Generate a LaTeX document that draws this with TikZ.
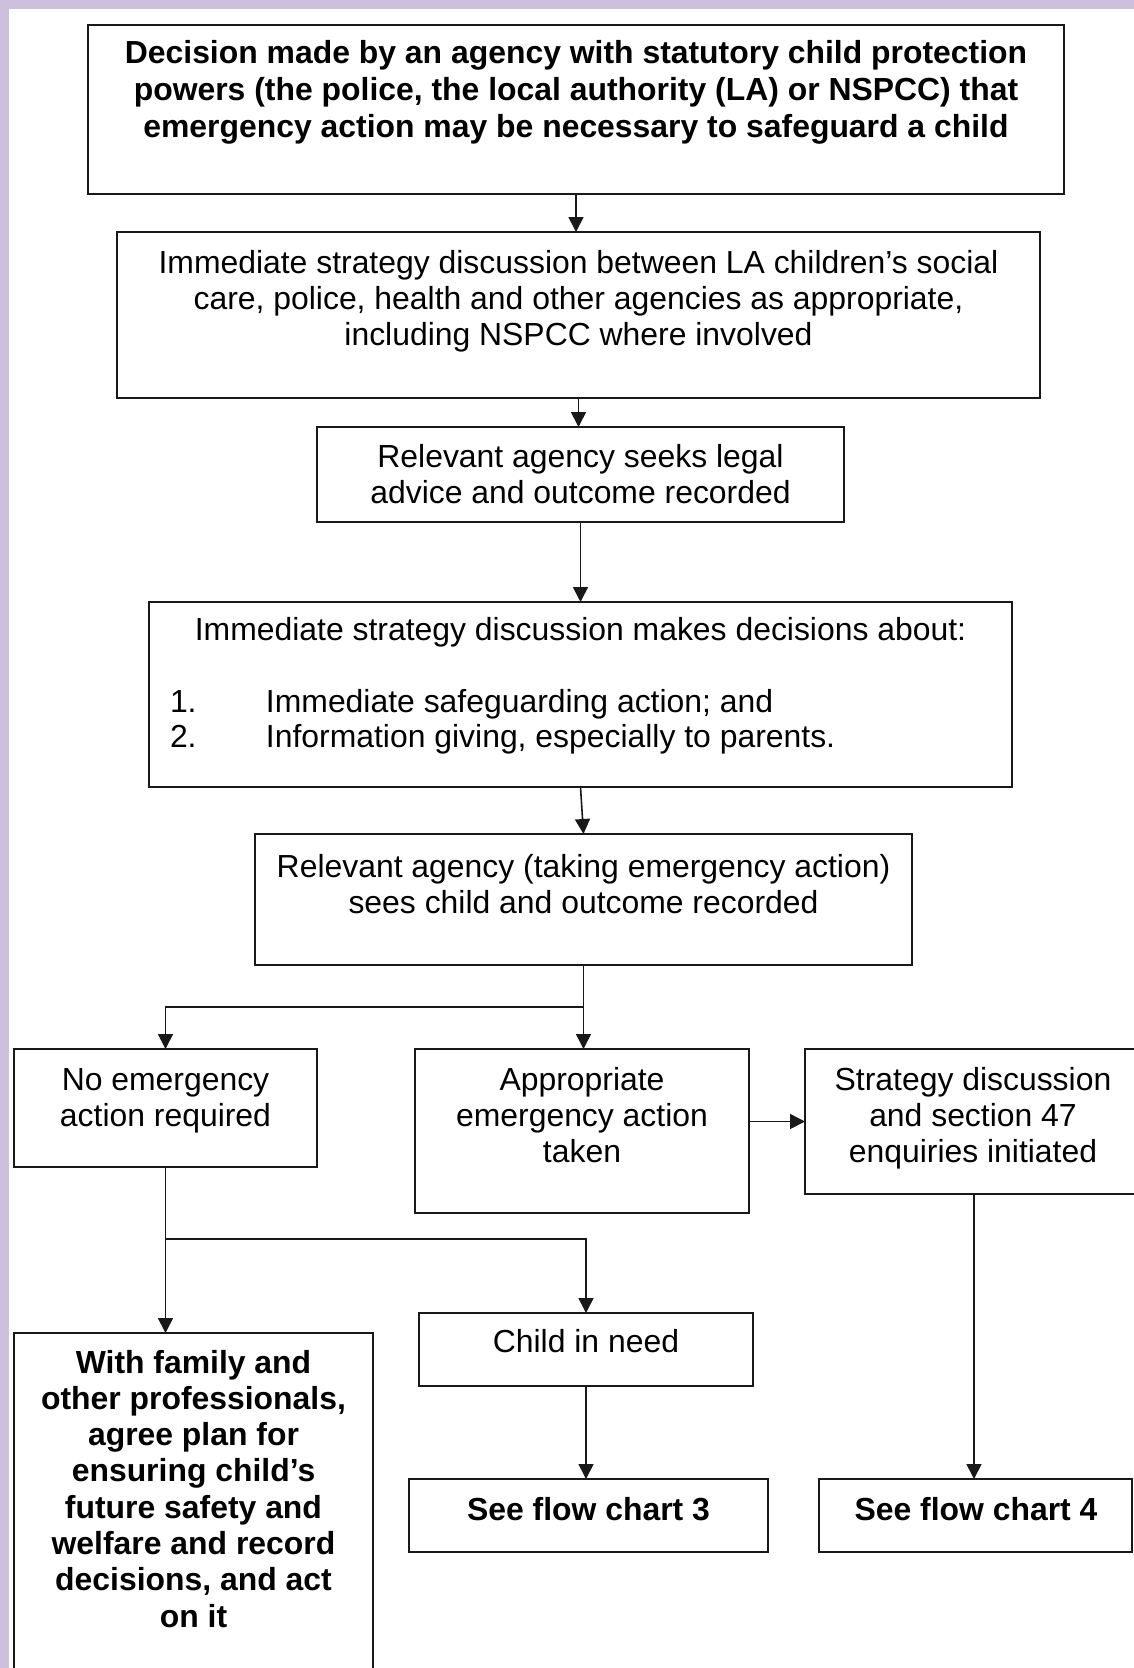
\documentclass[tikz,border=0pt]{standalone}
\usepackage{fontspec}
\setmainfont{Liberation Sans}
\usetikzlibrary{arrows.meta}
\definecolor{lav}{RGB}{204,192,219}
\definecolor{ln}{RGB}{25,25,25}
\begin{document}
\begin{tikzpicture}[x=1pt,y=-1pt,
  box/.style={draw=ln,line width=1.6pt,inner sep=0pt,outer sep=0pt,fill=none},
  txt/.style={inner sep=0pt,outer sep=0pt,align=center,anchor=north,font=\fontsize{31.9}{36.3}\selectfont},
  btxt/.style={txt,font=\fontsize{31.9}{36.6}\selectfont\bfseries},
  arr/.style={draw=ln,line width=1.6pt,-{Triangle[width=15pt,length=15pt]}},
  ln/.style={draw=ln,line width=1.6pt}]
\clip (0,0) rectangle (1134,1668);
\fill[white] (0,0) rectangle (1134,1668);
\fill[lav] (0,0) rectangle (1134,8.5);
\fill[lav] (0,0) rectangle (8.5,1668);
\newcommand{\st}{\rule{0pt}{24pt}}
% boxes
\node[box,minimum width=976pt,minimum height=169pt] (b1) at (576,109.5) {};
\node[box,minimum width=923pt,minimum height=166pt] (b2) at (578.5,315) {};
\node[box,minimum width=527pt,minimum height=95pt] (b3) at (580.5,474.5) {};
\node[box,minimum width=863pt,minimum height=185pt] (b4) at (580.5,694.5) {};
\node[box,minimum width=657pt,minimum height=131pt] (b5) at (583.5,899.5) {};
\node[box,minimum width=303pt,minimum height=118pt] (b6) at (165.5,1108) {};
\node[box,minimum width=334pt,minimum height=164pt] (b7) at (582,1131) {};
\node[box,minimum width=338pt,minimum height=145pt] (b8) at (974,1121.5) {};
\node[box,minimum width=359pt,minimum height=342pt] (b9) at (193.5,1504) {};
\node[box,minimum width=334pt,minimum height=73pt] (b10) at (586,1349.5) {};
\node[box,minimum width=359pt,minimum height=73pt] (b11) at (588.5,1515.5) {};
\node[box,minimum width=313pt,minimum height=73pt] (b12) at (975.5,1515.5) {};
% texts
\node[btxt,font=\fontsize{31.9}{37}\selectfont\bfseries] (t1) at (576,39) {\st Decision made by an agency with statutory child protection\\powers (the police, the local authority (LA) or NSPCC) that\\emergency action may be necessary to safeguard a child};
\node[txt] (t2) at (578.5,249) {\st Immediate strategy discussion between LA children’s social\\care, police, health and other agencies as appropriate,\\including NSPCC where involved};
\node[txt] (t3) at (580.5,443) {\st Relevant agency seeks legal\\advice and outcome recorded};
\node[txt] (t4) at (580.5,616) {\st Immediate strategy discussion makes decisions about:};
\node[txt,anchor=north west,align=left,font=\fontsize{31.9}{35.2}\selectfont] (t4l) at (170,688) {\st\makebox[96pt][l]{1.}Immediate safeguarding action; and\\\makebox[96pt][l]{2.}Information giving, especially to parents.};
\node[txt] (t5) at (583.5,853) {\st Relevant agency (taking emergency action)\\sees child and outcome recorded};
\node[txt] (t6) at (165.5,1066) {\st No emergency\\action required};
\node[txt] (t7) at (582,1066) {\st Appropriate\\emergency action\\taken};
\node[txt] (t8) at (973,1066) {\st Strategy discussion\\and section 47\\enquiries initiated};
\node[btxt,font=\fontsize{31.9}{36.3}\selectfont\bfseries] (t9) at (193.5,1349) {\st With family and\\other professionals,\\agree plan for\\ensuring child’s\\future safety and\\welfare and record\\decisions, and act\\on it};
\node[txt] (t10) at (586,1328) {\st Child in need};
\node[btxt] (t11) at (588.5,1496) {\st See flow chart 3};
\node[btxt] (t12) at (976,1496) {\st See flow chart 4};
% connectors
\coordinate (j1) at (583.5,1007);
\coordinate (j2) at (165.5,1239);
\draw[arr] (b1.south) -- (b1.south |- b2.north);
\draw[arr] (b2.south) -- (b2.south |- b3.north);
\draw[arr] (b3.south) -- (b3.south |- b4.north);
\draw[arr] (b4.south) -- (b5.north);
\draw[arr] (b5.south) -- (b5.south |- b7.north);
\draw[arr] (j1) -| (b6.north);
\draw[arr] (b7.east |- b8.west) -- (b8.west);
\draw[arr] (b6.south) -- (b6.south |- b9.north);
\draw[arr] (j2) -| (b10.north);
\draw[arr] (b10.south) -- (b10.south |- b11.north);
\draw[arr] (b8.south) -- (b8.south |- b12.north);
\end{tikzpicture}
\end{document}
